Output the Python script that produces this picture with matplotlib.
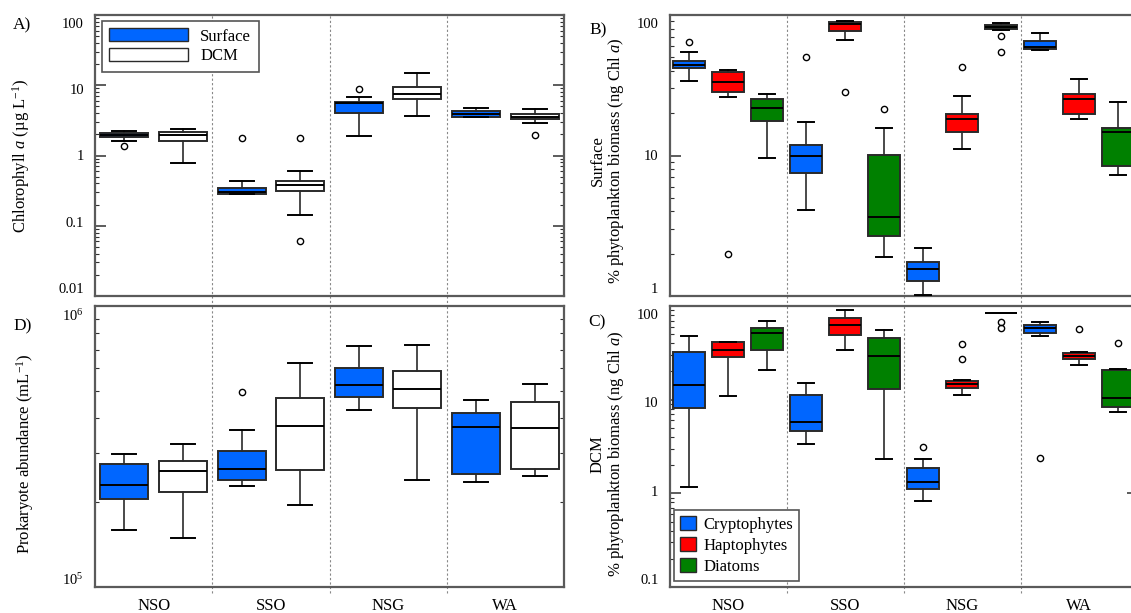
import matplotlib
matplotlib.use('Agg')
import numpy as np
import matplotlib.pyplot as plt
from matplotlib.ticker import LogLocator, FixedLocator, NullFormatter, FixedFormatter
from matplotlib.patches import Patch
from matplotlib.transforms import ScaledTranslation

plt.rcParams['font.family'] = ['Liberation Serif', 'DejaVu Serif']
plt.rcParams['mathtext.fontset'] = 'custom'
plt.rcParams['mathtext.rm'] = 'Liberation Serif'
plt.rcParams['mathtext.it'] = 'Liberation Serif:italic'
plt.rcParams['mathtext.bf'] = 'Liberation Serif:bold'

regions = ['NSO', 'SSO', 'NSG', 'WA']

# five-number summaries per region: [whisker low, Q1, median, Q3, whisker high]
# A) Chlorophyll a (ug/L)
chl_surface = [[1.61, 1.82, 1.94, 2.07, 2.25],
               [0.28, 0.28, 0.30, 0.35, 0.44],
               [1.91, 4.07, 5.60, 5.78, 6.80],
               [3.50, 3.57, 3.94, 4.30, 4.80]]
chl_surface_out = [[1.36], [1.75], [8.75], []]
chl_dcm = [[0.77, 1.59, 1.96, 2.16, 2.36],
           [0.14, 0.315, 0.38, 0.44, 0.60],
           [3.61, 6.30, 7.43, 9.55, 14.8],
           [2.93, 3.31, 3.57, 3.90, 4.55]]
chl_dcm_out = [[], [1.75, 0.060], [], [1.98]]

# D) Prokaryote abundance (mL-1)
prok_surface = [[1.60e5, 2.06e5, 2.30e5, 2.75e5, 2.97e5],
                [2.28e5, 2.40e5, 2.64e5, 3.06e5, 3.63e5],
                [4.27e5, 4.73e5, 5.22e5, 6.04e5, 7.19e5],
                [2.37e5, 2.53e5, 3.71e5, 4.15e5, 4.64e5]]
prok_surface_out = [[], [4.95e5], [], []]
prok_dcm = [[1.50e5, 2.18e5, 2.59e5, 2.81e5, 3.24e5],
            [1.96e5, 2.61e5, 3.75e5, 4.70e5, 6.25e5],
            [2.40e5, 4.35e5, 5.05e5, 5.86e5, 7.27e5],
            [2.48e5, 2.64e5, 3.67e5, 4.54e5, 5.27e5]]
prok_dcm_out = [[], [], [], []]

# B) Surface % phytoplankton biomass
surf_crypto = [[33.7, 41.8, 44.1, 47.1, 54.8],
               [4.07, 7.55, 9.97, 11.9, 17.4],
               [1.02, 1.28, 1.55, 1.74, 2.20],
               [56.5, 57.0, 59.5, 65.0, 74.5]]
surf_crypto_out = [[64.0], [50.2], [], []]
surf_hapto = [[26.1, 28.3, 33.2, 39.3, 40.6],
              [66.7, 77.3, 85.8, 89.2, 91.1],
              [11.1, 14.7, 18.3, 19.7, 26.7],
              [18.2, 19.7, 25.2, 27.2, 35.2]]
surf_hapto_out = [[1.98], [28.3], [42.4], []]
surf_diatom = [[9.6, 17.7, 21.7, 25.1, 27.2],
               [1.90, 2.67, 3.67, 10.1, 15.7],
               [77.8, 79.1, 82.1, 84.4, 87.7],
               [7.3, 8.47, 14.6, 15.7, 23.9]]
surf_diatom_out = [[], [21.5], [71.2, 54.8], []]

# C) DCM % phytoplankton biomass
dcm_crypto = [[1.16, 8.14, 14.5, 32.4, 47.7],
              [3.40, 4.58, 5.71, 11.2, 15.0],
              [0.83, 1.11, 1.31, 1.85, 2.33],
              [47.7, 51.0, 58.1, 63.1, 66.9]]
dcm_crypto_out = [[], [], [3.14], [2.41]]
dcm_hapto = [[10.9, 28.4, 33.8, 40.8, 41.5],
             [33.5, 49.3, 63.1, 74.3, 89.9],
             [11.2, 13.4, 14.7, 16.0, 16.1],
             [23.5, 26.9, 29.4, 31.6, 31.9]]
dcm_hapto_out = [[], [], [39.2, 27.5], [56.2]]
dcm_diatom = [[20.8, 33.5, 51.0, 57.7, 69.6],
              [2.33, 13.1, 29.4, 45.8, 55.7],
              [83.5, 83.5, 83.5, 83.5, 83.5],
              [7.44, 8.34, 10.3, 20.8, 21.1]]
dcm_diatom_out = [[], [], [67.9, 58.6], [40.4]]

BLUE = '#0066ff'
RED = '#ff0000'
GREEN = '#008000'
EDGE = '#2a2a2a'
SPINE = '#5a5a5a'

W, H = 1131, 613
fig = plt.figure(figsize=(W / 100, H / 100), dpi=100)


def axes_px(l, t, r, b):
    return fig.add_axes([l / W, 1 - b / H, (r - l) / W, (b - t) / H])


axA = axes_px(95, 15, 564, 296)
axB = axes_px(669.5, 15, 1137.5, 296)
axD = axes_px(95, 306, 564, 587)
axC = axes_px(669.5, 306, 1137.5, 587)


def draw(ax, series, outs, colors, offsets, width):
    for vals, fl, col, off in zip(series, outs, colors, offsets):
        stats = [dict(whislo=v[0], q1=v[1], med=v[2], q3=v[3], whishi=v[4], fliers=f)
                 for v, f in zip(vals, fl)]
        pos = [i + off for i in range(len(regions))]
        ax.bxp(stats, positions=pos, widths=width, patch_artist=True, showfliers=True,
               boxprops=dict(facecolor=col, edgecolor=EDGE, linewidth=1.4),
               medianprops=dict(color='black', linewidth=1.4),
               whiskerprops=dict(color=EDGE, linewidth=1.2),
               capprops=dict(color='black', linewidth=1.4),
               flierprops=dict(marker='o', markerfacecolor='none', markeredgecolor='black',
                               markersize=4.5, markeredgewidth=1.0),
               manage_ticks=False, zorder=3)


def style(ax, ylim, major, labels, bottom, ext):
    ax.set_yscale('log')
    ax.set_xlim(0, 4)
    ax.set_ylim(*ylim)
    ax.yaxis.set_major_locator(FixedLocator(major))
    ax.yaxis.set_major_formatter(FixedFormatter(labels))
    ax.yaxis.set_minor_locator(LogLocator(base=10, subs=np.arange(2, 10), numticks=30))
    ax.yaxis.set_minor_formatter(NullFormatter())
    ax.tick_params(axis='y', which='major', direction='in', length=8, width=1.1,
                   right=True, labelsize=10.5, pad=8, color='#303030')
    ax.tick_params(axis='y', which='minor', direction='in', length=3, width=0.8,
                   right=True, color='#303030')
    ax.set_xticks([i + 0.5 for i in range(len(regions))])
    if bottom:
        ax.set_xticklabels(regions, fontsize=12)
    else:
        ax.set_xticklabels([])
    ax.tick_params(axis='x', length=0, pad=8)
    for sp in ax.spines.values():
        sp.set_color(SPINE)
        sp.set_linewidth(1.6)
    for xv in [1, 2, 3]:
        ax.axvline(xv, ymin=ext, ymax=1, clip_on=False, color='#888888',
                   linestyle=(0, (2, 2)), linewidth=0.8, zorder=1)


draw(axA, [chl_surface, chl_dcm], [chl_surface_out, chl_dcm_out], [BLUE, 'white'],
     [0.25, 0.75], 0.41)
draw(axD, [prok_surface, prok_dcm], [prok_surface_out, prok_dcm_out], [BLUE, 'white'],
     [0.25, 0.75], 0.41)
draw(axB, [surf_crypto, surf_hapto, surf_diatom],
     [surf_crypto_out, surf_hapto_out, surf_diatom_out], [BLUE, RED, GREEN],
     [1 / 6, 0.5, 5 / 6], 0.27)
draw(axC, [dcm_crypto, dcm_hapto, dcm_diatom],
     [dcm_crypto_out, dcm_hapto_out, dcm_diatom_out], [BLUE, RED, GREEN],
     [1 / 6, 0.5, 5 / 6], 0.27)

style(axA, (0.01, 100), [0.01, 0.1, 1, 10, 100], ['0.01', '0.1', '1', '10', '100'], False, -0.04)
style(axB, (1, 100), [1, 10, 100], ['1', '10', '100'], False, -0.04)
style(axD, (1e5, 1e6), [1e5, 1e6], [r'$10^{5}$', r'$10^{6}$'], True, -0.022)
style(axC, (0.1, 100), [0.1, 1, 10, 100], ['0.1', '1', '10', '100'], True, -0.022)

axA.set_ylabel(r'Chlorophyll $\it{a}$ (µg L$^{-1}$)', fontsize=12)
axA.yaxis.set_label_coords(-0.134, 0.5)
axD.set_ylabel(r'Prokaryote abundance (mL$^{-1}$)', fontsize=12)
axD.yaxis.set_label_coords(-0.126, 0.474)
axB.set_ylabel('Surface\n' + r'% phytoplankton biomass (ng Chl $\it{a}$)', fontsize=12,
               linespacing=1.0)
axB.yaxis.set_label_coords(-0.094, 0.482)
axC.set_ylabel('DCM\n' + r'% phytoplankton biomass (ng Chl $\it{a}$)', fontsize=12,
               linespacing=1.0)
axC.yaxis.set_label_coords(-0.094, 0.474)

legA = axA.legend(handles=[Patch(facecolor=BLUE, edgecolor=EDGE, linewidth=1.0, label='Surface'),
                           Patch(facecolor='white', edgecolor=EDGE, linewidth=1.0, label='DCM')],
                  loc='upper left', bbox_to_anchor=(7 / 469, 1 - 5.7 / 281), borderaxespad=0,
                  fontsize=12, handlelength=4.7, handleheight=0.85, handletextpad=0.75,
                  labelspacing=0.2, fancybox=False, framealpha=1, edgecolor='#555555',
                  borderpad=0.45)
legA.get_frame().set_linewidth(1.2)
legA.set_zorder(5)

legC = axC.legend(handles=[Patch(facecolor=BLUE, edgecolor=EDGE, linewidth=1.0, label='Cryptophytes'),
                           Patch(facecolor=RED, edgecolor=EDGE, linewidth=1.0, label='Haptophytes'),
                           Patch(facecolor=GREEN, edgecolor=EDGE, linewidth=1.0, label='Diatoms')],
                  loc='lower left', bbox_to_anchor=(4.5 / 468, 6.3 / 281), borderaxespad=0,
                  fontsize=12, handlelength=0.95, handleheight=0.95, handletextpad=0.45,
                  labelspacing=0.25, fancybox=False, framealpha=1, edgecolor='#555555',
                  borderpad=0.35)
legC.get_frame().set_linewidth(1.2)
legC.set_zorder(5)

for txt, xp, yp in [('A)', 13, 25), ('B)', 589, 30), ('D)', 13, 326), ('C)', 588, 322)]:
    fig.text(xp / W, 1 - yp / H, txt, fontsize=12.5, ha='left', va='center')

# the source draws y tick labels pulled slightly toward the axis centre
fig.canvas.draw()
for ax in [axA, axB, axC, axD]:
    h_px = ax.get_position().height * H
    for tick in ax.yaxis.get_major_ticks():
        frac = ax.transAxes.inverted().transform(ax.transData.transform((0, tick.get_loc())))[1]
        dy = (0.5 - frac) * 0.058 * h_px / 100.0
        tick.label1.set_transform(tick.label1.get_transform() +
                                  ScaledTranslation(0, dy, fig.dpi_scale_trans))

fig.savefig('out.png', dpi=100)
